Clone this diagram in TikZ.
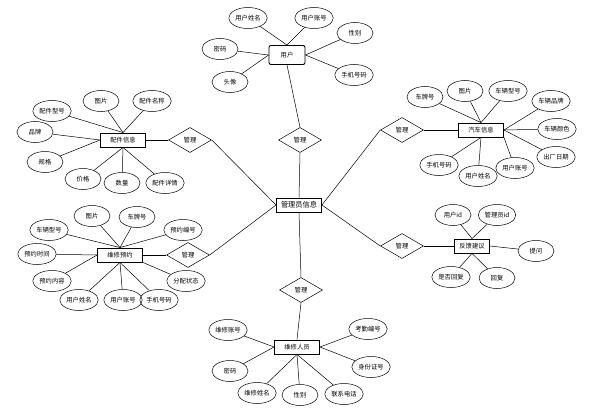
\documentclass[tikz,border=0pt]{standalone}
\usepackage{fontspec}
\setmainfont{Noto Sans CJK SC}
\usetikzlibrary{shapes.geometric}
\newcommand{\erfont}{\fontsize{6.3}{7}\selectfont}
\tikzset{
    attr/.style = {ellipse, draw, line width=0.5pt, minimum width=36pt, minimum height=21pt, inner sep=1pt, font=\erfont},
    ent/.style = {rectangle, draw, line width=0.9pt, minimum width=45pt, minimum height=14pt, inner sep=1pt, font=\erfont},
    rel/.style = {diamond, draw, line width=0.5pt, minimum width=43pt, minimum height=25pt, aspect=1.7, inner sep=0pt, font=\erfont},
}

\begin{document}
\begin{tikzpicture}[x=1pt, y=-1pt, line width=0.5pt]

    \useasboundingbox (0,0) rectangle (608,412);

%entities
    \node[ent, rounded corners=2pt, minimum width=36pt, minimum height=19pt] (u) at (287,55) {用户};
    \node[ent, font=\fontsize{7.2}{8}\selectfont] (m) at (299,205) {管理员信息};
    \node[ent] (p) at (123,140) {配件信息};
    \node[ent] (c) at (481,130) {汽车信息};
    \node[ent] (b) at (120,255) {维修预约};
    \node[ent, minimum width=35pt] (f) at (472,246) {反馈建议};
    \node[ent] (w) at (297,347) {维修人员};

%relations
    \foreach\n/\x/\y in {r0/300/140,r1/190/140,r2/402/130,r3/188/255,r4/402/246,r5/301/290}
    {
        \node[rel] (\n) at (\x,\y) {管理};
    }

%user
    \foreach\n/\x/\y/\t/\a in {ua0/248/18/用户姓名/north,ua1/314/18/用户账号/north,ua2/355/33/性别/east,ua3/220/49/密码/west,ua4/354/75/手机号码/east,ua5/230/82/头像/west}
    {
        \node[attr] (\n) at (\x,\y) {\t};
        \draw (\n) -- (u.\a);
    }
%parts
    \foreach\n/\x/\y/\t/\a in {pa0/52/111/配件型号/north,pa1/101/101/图片/north,pa2/152/101/配件名称/north,pa3/35/132/品牌/west,pa4/45/162/规格/west,pa5/83/179/价格/south,pa6/122/183/数量/south,pa7/165/183/配件详情/south}
    {
        \node[attr] (\n) at (\x,\y) {\t};
        \draw (\n) -- (p.\a);
    }
%car
    \foreach\n/\x/\y/\t/\a in {ca0/425/97/车牌号/north,ca1/465/91/图片/north,ca2/508/91/车辆型号/north,ca3/551/101/车辆品牌/east,ca4/557/129/车辆颜色/east,ca5/556/157/出厂日期/east,ca6/439/165/手机号码/south,ca7/478/176/用户姓名/south,ca8/515/168/用户账号/south east}
    {
        \node[attr] (\n) at (\x,\y) {\t};
        \draw (\n) -- (c.\a);
    }
%booking
    \foreach\n/\x/\y/\t/\a in {ba0/49/230/车辆型号/north,ba1/92/216/图片/north,ba2/137/217/车牌号/north,ba3/183/230/预约编号/north,ba4/37/254/预约时间/west,ba5/52/281/预约内容/west,ba6/79/300/用户姓名/south,ba7/123/300/用户账号/south,ba8/159/300/手机号码/south,ba9/186/281/分配状态/south east}
    {
        \node[attr] (\n) at (\x,\y) {\t};
        \draw (\n) -- (b.\a);
    }
%feedback
    \foreach\n/\x/\y/\t/\a in {fa0/453/215/用户id/north,fa1/497/215/管理员id/north,fa2/536/251/提问/east,fa3/451/277/是否回复/south,fa4/497/278/回复/south}
    {
        \node[attr] (\n) at (\x,\y) {\t};
        \draw (\n) -- (f.\a);
    }
%worker
    \foreach\n/\x/\y/\t/\a in {wa0/228/330/维修账号/west,wa1/368/329/考勤编号/east,wa2/230/371/密码/west,wa3/371/367/身份证号/east,wa4/257/393/维修姓名/south,wa5/300/395/性别/south,wa6/344/394/联系电话/south}
    {
        \node[attr] (\n) at (\x,\y) {\t};
        \draw (\n) -- (w.\a);
    }

%%%%        Edges
    \draw (u.south) -- (r0.north);
    \draw (r0.south) -- (m.north);
    \draw (m.south) -- (r5.north);
    \draw (r5.south) -- (w.north);
    \foreach\v/\w in {m.west/r1.east,r1.west/p.east,m.west/r3.east,r3.west/b.east,m.east/r2.west,r2.east/c.west,m.east/r4.west,r4.east/f.west}
    {
        \draw (\v) -- (\w);
    }
\end{tikzpicture}
\end{document}
